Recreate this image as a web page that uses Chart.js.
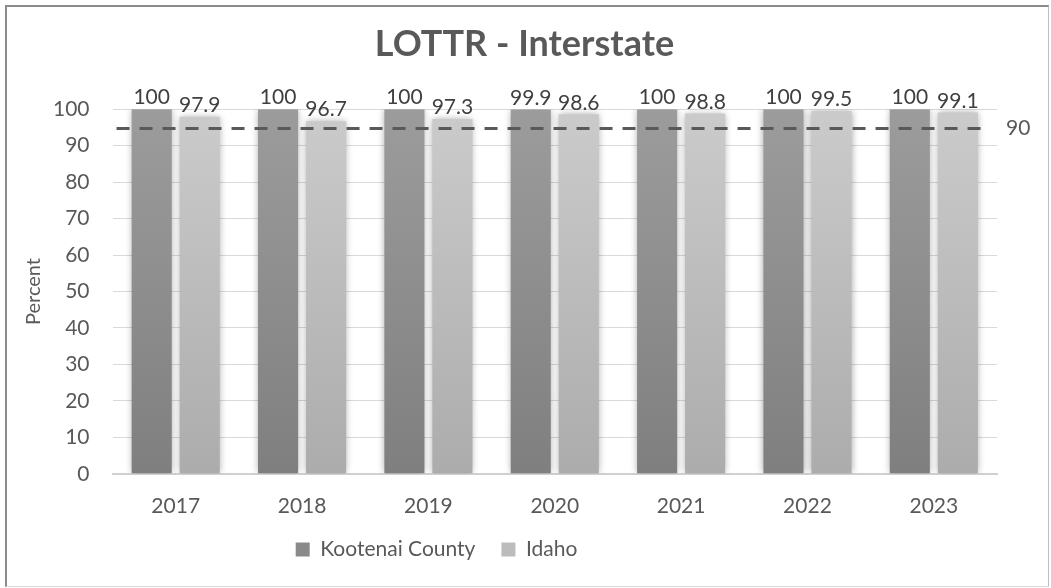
<!DOCTYPE html>
<html>
<head>
<meta charset="utf-8">
<script src="https://cdn.jsdelivr.net/npm/chart.js@4.4.1/dist/chart.umd.min.js"></script>
<style>
  html, body { margin: 0; padding: 0; background: #ffffff; }
  .wrap {
    position: absolute; left: 5px; top: 5px; width: 1041px; height: 579px;
    border-top: 2px solid #8c8c8c; border-left: 2px solid #8c8c8c;
    border-right: 1px solid #bfbfbf; border-bottom: 1px solid #d9d9d9;
    background: #ffffff;
  }
</style>
</head>
<body>
<div class="wrap"><canvas id="chartLottr"></canvas></div>
<script>
// datos
const years = ['2017', '2018', '2019', '2020', '2021', '2022', '2023'];
const kootenai = [100, 100, 100, 99.9, 100, 100, 100];
const idaho = [97.9, 96.7, 97.3, 98.6, 98.8, 99.5, 99.1];
const yTicks = [0, 10, 20, 30, 40, 50, 60, 70, 80, 90, 100];
const targetValue = 90;

const FONT = 'Lato, "Open Sans", sans-serif';
const TEXT = '#595959';
const FS = 21;

function vGradient(chart, top, bottom) {
    const area = chart.chartArea;
    if (!area) return bottom;
    const g = chart.ctx.createLinearGradient(0, area.top, 0, area.bottom);
    g.addColorStop(0, top);
    g.addColorStop(1, bottom);
    return g;
}

const legendColors = ['#8a8a8a', '#bcbcbc'];

// en el original la leyenda esta corrida a la izquierda y el titulo centrado en todo el ancho
const legendShift = { x: -68, y: -26 };
const titleShift = 20;

const extras = {
    id: 'extras',
    afterLayout(chart) {
        const lg = chart.legend;
        lg.left += legendShift.x;
        lg.right += legendShift.x;
        lg.top += legendShift.y;
        lg.bottom += legendShift.y;
        const tb = chart.titleBlock;
        if (tb) {
            tb.left += titleShift;
            tb.right += titleShift;
        }
    },
    beforeDatasetsDraw(chart) {
        const ctx = chart.ctx;
        ctx.save();
        ctx.shadowColor = 'rgba(0,0,0,0.35)';
        ctx.shadowBlur = 7;
    },
    afterDatasetsDraw(chart) {
        const ctx = chart.ctx;
        ctx.restore();
        const area = chart.chartArea;

        // linea meta
        const y = chart.scales.y2.getPixelForValue(targetValue);
        ctx.save();
        ctx.strokeStyle = '#595959';
        ctx.lineWidth = 3;
        ctx.setLineDash([13, 10]);
        ctx.beginPath();
        ctx.moveTo(area.left + 4, y);
        ctx.lineTo(area.right - 13, y);
        ctx.stroke();
        ctx.setLineDash([]);
        ctx.font = FS + 'px ' + FONT;
        ctx.fillStyle = TEXT;
        ctx.textAlign = 'left';
        ctx.textBaseline = 'middle';
        ctx.fillText(String(targetValue), area.right + 9, y);

        // etiquetas de datos
        ctx.fillStyle = '#404040';
        ctx.textAlign = 'center';
        ctx.textBaseline = 'bottom';
        chart.data.datasets.forEach((ds, i) => {
            const meta = chart.getDatasetMeta(i);
            meta.data.forEach((bar, j) => {
                ctx.fillText(String(ds.data[j]), bar.x, bar.y - 1);
            });
        });
        ctx.restore();
    }
};

new Chart(document.getElementById('chartLottr'), {
    type: 'bar',
    data: {
        labels: years,
        datasets: [
            {
                label: 'Kootenai County',
                data: kootenai,
                backgroundColor: c => vGradient(c.chart, '#9c9c9c', '#7f7f7f'),
                borderWidth: 0,
                categoryPercentage: 0.76,
                barPercentage: 0.835
            },
            {
                label: 'Idaho',
                data: idaho,
                backgroundColor: c => vGradient(c.chart, '#cbcbcb', '#acacac'),
                borderWidth: 0,
                categoryPercentage: 0.76,
                barPercentage: 0.835
            }
        ]
    },
    options: {
        responsive: true,
        maintainAspectRatio: false,
        animation: false,
        layout: { padding: { left: 5, right: 51, bottom: -10, top: 0 } },
        plugins: {
            title: {
                display: true,
                text: 'LOTTR - Interstate',
                color: TEXT,
                font: { family: FONT, size: 36, weight: 'bold' },
                padding: { top: 16, bottom: 43 }
            },
            legend: {
                position: 'bottom',
                labels: {
                    color: TEXT,
                    font: { family: FONT, size: FS },
                    boxWidth: 14,
                    boxHeight: 14,
                    padding: 26,
                    generateLabels(chart) {
                        const items = Chart.defaults.plugins.legend.labels.generateLabels(chart);
                        items.forEach((it, i) => {
                            it.fillStyle = legendColors[i];
                            it.strokeStyle = legendColors[i];
                            it.lineWidth = 0;
                        });
                        return items;
                    }
                }
            },
            tooltip: { enabled: false }
        },
        scales: {
            x: {
                grid: { display: false, drawTicks: false },
                border: { color: '#d0d0d0', width: 2 },
                ticks: { color: TEXT, font: { family: FONT, size: FS }, padding: 20 }
            },
            y: {
                min: 0,
                max: 100,
                afterBuildTicks(axis) {
                    axis.ticks = yTicks.map(v => ({ value: v }));
                },
                grid: { color: '#d9d9d9', drawTicks: false },
                border: { display: false },
                ticks: { color: TEXT, font: { family: FONT, size: FS }, padding: 23 },
                title: {
                    display: true,
                    text: 'Percent',
                    color: TEXT,
                    font: { family: FONT, size: 20 },
                    padding: { top: 10, bottom: -16 }
                }
            },
            y2: {
                display: false,
                min: 0,
                max: 95
            }
        }
    },
    plugins: [extras]
});
</script>
</body>
</html>
